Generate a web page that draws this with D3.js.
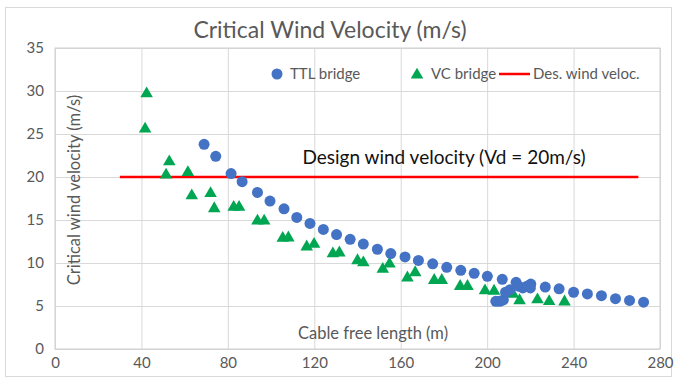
<!DOCTYPE html>
<html>
<head>
<meta charset="utf-8">
<script src="https://cdn.jsdelivr.net/npm/d3@7"></script>
<style>
  body { margin: 0; background: #fff; }
  svg text { font-family: Lato, "Open Sans", sans-serif; }
</style>
</head>
<body>
<svg class="chart"></svg>
<script>
// data
var ttlLength = [69, 74.4, 81.5, 86.6, 93.7, 99.5, 106, 111.9, 118, 124.2, 130.3, 136.6, 142.7, 149.2,
                 155.4, 162, 168.2, 174.8, 181.3, 187.8, 194, 200.1, 207, 213.4, 220.2, 226.9, 233.3,
                 240, 246.4, 252.9, 259.4, 265.9, 272.4,
                 204, 205.8, 207.5, 208.5, 210.6, 214.5, 216.5, 218.4, 220];
var ttlVel    = [23.8, 22.4, 20.4, 19.45, 18.2, 17.2, 16.3, 15.3, 14.6, 13.9, 13.3, 12.75, 12.2, 11.6,
                 11.1, 10.7, 10.3, 9.9, 9.5, 9.15, 8.8, 8.45, 8.1, 7.75, 7.55, 7.2, 7.0,
                 6.6, 6.4, 6.2, 5.85, 5.65, 5.45,
                 5.55, 5.55, 5.7, 6.6, 6.9, 7.3, 7.1, 7.3, 7.1];

var vcLength = [42.4, 41.7, 52.9, 51.4, 61.5, 63.3, 72, 73.7, 82.7, 85.2, 93.7, 96.8, 105.4, 108,
                116.5, 119.9, 128.6, 131.6, 140, 142.7, 151.7, 154.8, 163.1, 166.7, 175.5, 179,
                187.5, 190.9, 199, 203.2, 211.9, 215, 223.3, 228.7, 235.8];
var vcVel    = [29.8, 25.7, 21.9, 20.35, 20.65, 17.95, 18.2, 16.45, 16.6, 16.6, 15.0, 15.0, 13.0, 13.05,
                12.0, 12.3, 11.2, 11.3, 10.4, 10.15, 9.4, 10.0, 8.4, 9.0, 8.1, 8.1,
                7.4, 7.4, 6.9, 6.85, 6.5, 5.75, 5.85, 5.65, 5.6];

var designLength = [30, 270];
var designVel    = [20, 20];

var xTicks = [0, 40, 80, 120, 160, 200, 240, 280];
var yTicks = [0, 5, 10, 15, 20, 25, 30, 35];

var legendLabels = ["TTL bridge", "VC bridge", "Des. wind veloc."];

var width = 677, height = 379;
var plotLeft = 55, plotRight = 660, plotTop = 48, plotBottom = 349;
var gridColor = "#d9d9d9", textColor = "#595959";
var blue = "#4472c4", green = "#00a651", red = "#ff0000";

var svg = d3.select(".chart").attr("width", width).attr("height", height);

// outer frame
svg.append("rect")
    .attr("x", 5.5).attr("y", 7.5)
    .attr("width", 666).attr("height", 369)
    .attr("fill", "#fff").attr("stroke", "#d9d9d9");

var x = d3.scaleLinear().domain([0, 280]).range([plotLeft, plotRight]);
var y = d3.scaleLinear().domain([0, 35]).range([plotBottom, plotTop]);

// grid
svg.append("g").attr("class", "grid")
    .attr("transform", "translate(0," + plotBottom + ")")
    .call(d3.axisBottom(x).tickValues(xTicks).tickSize(-(plotBottom - plotTop)).tickFormat(""))
    .call(function (g) { g.select(".domain").remove(); })
    .selectAll("line").attr("stroke", gridColor);

svg.append("g").attr("class", "grid")
    .attr("transform", "translate(" + plotLeft + ",0)")
    .call(d3.axisLeft(y).tickValues(yTicks).tickSize(-(plotRight - plotLeft)).tickFormat(""))
    .call(function (g) { g.select(".domain").remove(); })
    .selectAll("line").attr("stroke", gridColor);

// plot border
svg.append("rect")
    .attr("x", plotLeft).attr("y", plotTop)
    .attr("width", plotRight - plotLeft).attr("height", plotBottom - plotTop)
    .attr("fill", "none").attr("stroke", "#cfcfcf");

// tick labels
var xAxis = svg.append("g")
    .attr("transform", "translate(0," + plotBottom + ")")
    .call(d3.axisBottom(x).tickValues(xTicks).tickSize(0).tickPadding(8));
xAxis.select(".domain").remove();
xAxis.selectAll("text").attr("fill", textColor).style("font-size", "15px");

var yAxis = svg.append("g")
    .attr("transform", "translate(" + plotLeft + ",0)")
    .call(d3.axisLeft(y).tickValues(yTicks).tickSize(0).tickPadding(11));
yAxis.select(".domain").remove();
yAxis.selectAll("text").attr("fill", textColor).style("font-size", "15px");

// title
svg.append("text")
    .attr("x", 330).attr("y", 38)
    .attr("text-anchor", "middle")
    .attr("fill", textColor)
    .style("font-size", "23px")
    .text("Critical Wind Velocity (m/s)");

// axis titles
svg.append("text")
    .attr("x", 373).attr("y", 339)
    .attr("text-anchor", "middle")
    .attr("fill", textColor)
    .style("font-size", "16.5px")
    .text("Cable free length (m)");

svg.append("text")
    .attr("transform", "translate(80,190) rotate(-90)")
    .attr("text-anchor", "middle")
    .attr("fill", textColor)
    .style("font-size", "16.5px")
    .text("Critical wind velocity (m/s)");

// design line
var line = d3.line().x(function (d) { return x(d[0]); }).y(function (d) { return y(d[1]); });
svg.append("path")
    .datum(d3.zip(designLength, designVel))
    .attr("d", line)
    .attr("fill", "none")
    .attr("stroke", red)
    .attr("stroke-width", 2.5);

svg.append("text")
    .attr("x", 444).attr("y", 164)
    .attr("text-anchor", "middle")
    .attr("fill", "#111")
    .style("font-size", "19px")
    .text("Design wind velocity (Vd = 20m/s)");

// markers
var tri = d3.symbol().type(d3.symbolTriangle).size(68);

svg.append("g").selectAll("path")
    .data(d3.zip(vcLength, vcVel))
    .enter().append("path")
    .attr("d", tri)
    .attr("transform", function (d) { return "translate(" + x(d[0]) + "," + (y(d[1]) + 1) + ")"; })
    .attr("fill", green);

svg.append("g").selectAll("circle")
    .data(d3.zip(ttlLength, ttlVel))
    .enter().append("circle")
    .attr("cx", function (d) { return x(d[0]); })
    .attr("cy", function (d) { return y(d[1]); })
    .attr("r", 5.5)
    .attr("fill", blue);

// legend
var legY = 74;
var legend = svg.append("g");
legend.append("circle").attr("cx", 277).attr("cy", legY).attr("r", 5.5).attr("fill", blue);
legend.append("path").attr("d", tri).attr("transform", "translate(417," + (legY + 1) + ")").attr("fill", green);
legend.append("line").attr("x1", 499).attr("x2", 530).attr("y1", legY).attr("y2", legY)
    .attr("stroke", red).attr("stroke-width", 2.5);

var legX = [290, 431, 533];
legend.selectAll("text")
    .data(legendLabels)
    .enter().append("text")
    .attr("x", function (d, i) { return legX[i]; })
    .attr("y", legY + 5)
    .attr("fill", textColor)
    .style("font-size", "15px")
    .text(function (d) { return d; });
</script>
</body>
</html>
